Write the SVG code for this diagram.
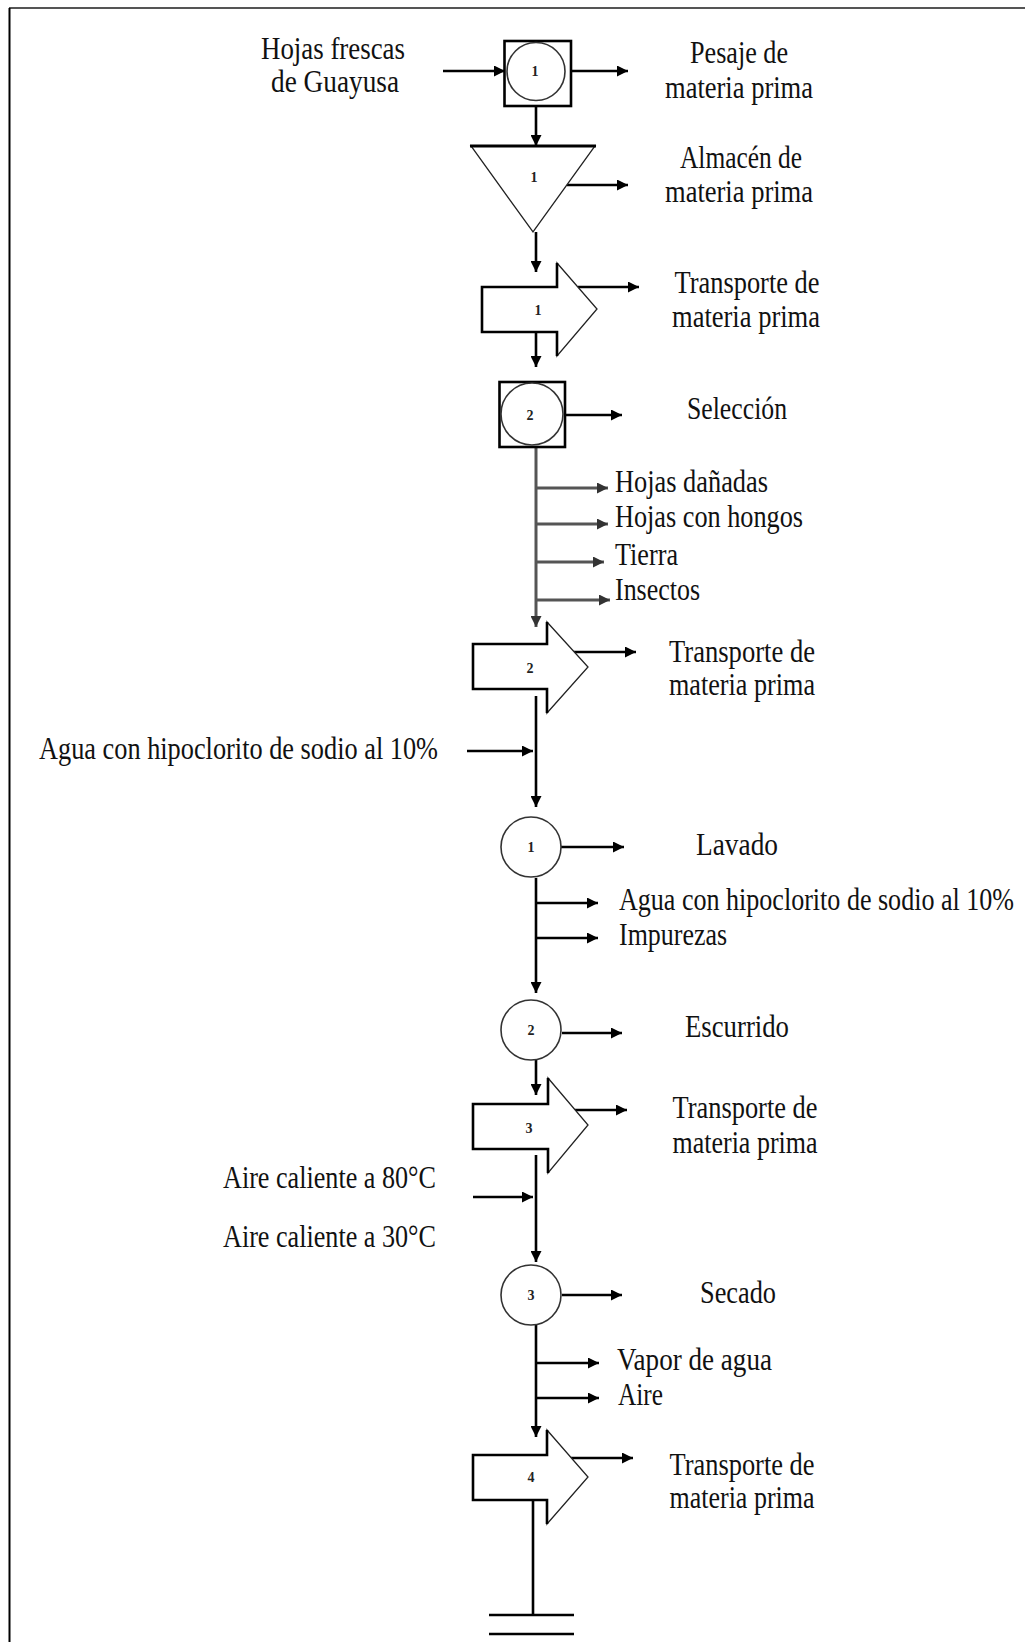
<svg xmlns="http://www.w3.org/2000/svg" width="1025" height="1642" viewBox="0 0 1025 1642">
<style>
.lbl{font-family:"Liberation Serif","Times New Roman",serif;font-size:32px;fill:#111}
.num{font-family:"Liberation Serif","Times New Roman",serif;font-size:14px;font-weight:bold;fill:#222;text-anchor:middle}
.c{text-anchor:middle}
.ln{stroke:#000;stroke-width:2.6;fill:none}
.gl{stroke:#555;stroke-width:3;fill:none}
.circ{fill:#fff;stroke:#333;stroke-width:1.6}
.thin{fill:#fff;stroke:#222;stroke-width:1.3}
.thick{fill:none;stroke:#000;stroke-width:2.6}
</style>
<defs>
<marker id="ah" viewBox="0 0 10 10" refX="10" refY="5" markerWidth="12" markerHeight="11" markerUnits="userSpaceOnUse" orient="auto"><path d="M0,0 L10,5 L0,10 z" fill="#000"/></marker>
<marker id="ahg" viewBox="0 0 10 10" refX="10" refY="5" markerWidth="12" markerHeight="11" markerUnits="userSpaceOnUse" orient="auto"><path d="M0,0 L10,5 L0,10 z" fill="#333"/></marker>
</defs>
<rect width="1025" height="1642" fill="#fff"/>
<g id="frame">
<line x1="9" y1="8" x2="1025" y2="8" stroke="#555" stroke-width="2"/>
<line x1="9.5" y1="8" x2="9.5" y2="1642" stroke="#000" stroke-width="2"/>
</g>
<g id="connectors">
<line class="ln" x1="443" y1="71" x2="505" y2="71" marker-end="url(#ah)"/>
<line class="ln" x1="571" y1="71" x2="628" y2="71" marker-end="url(#ah)"/>
<line class="ln" x1="536" y1="106" x2="536" y2="146" marker-end="url(#ah)"/>
<line class="ln" x1="567" y1="185" x2="628" y2="185" marker-end="url(#ah)"/>
<line class="ln" x1="536" y1="232" x2="536" y2="272" marker-end="url(#ah)"/>
<line class="ln" x1="578" y1="287" x2="639" y2="287" marker-end="url(#ah)"/>
<line class="ln" x1="536" y1="332" x2="536" y2="367" marker-end="url(#ah)"/>
<line class="ln" x1="565" y1="415" x2="622" y2="415" marker-end="url(#ah)"/>
<line class="gl" x1="536" y1="447" x2="536" y2="627" marker-end="url(#ahg)"/>
<line class="gl" x1="536" y1="488" x2="608" y2="488" marker-end="url(#ahg)"/>
<line class="gl" x1="536" y1="524" x2="608" y2="524" marker-end="url(#ahg)"/>
<line class="gl" x1="536" y1="562" x2="604" y2="562" marker-end="url(#ahg)"/>
<line class="gl" x1="536" y1="600" x2="610" y2="600" marker-end="url(#ahg)"/>
<line class="ln" x1="574" y1="652" x2="636" y2="652" marker-end="url(#ah)"/>
<line class="ln" x1="536" y1="696" x2="536" y2="807" marker-end="url(#ah)"/>
<line class="ln" x1="467" y1="751" x2="533" y2="751" marker-end="url(#ah)"/>
<line class="ln" x1="561" y1="847" x2="624" y2="847" marker-end="url(#ah)"/>
<line class="ln" x1="536" y1="878" x2="536" y2="993" marker-end="url(#ah)"/>
<line class="ln" x1="536" y1="903" x2="598" y2="903" marker-end="url(#ah)"/>
<line class="ln" x1="536" y1="938" x2="598" y2="938" marker-end="url(#ah)"/>
<line class="ln" x1="562" y1="1033" x2="622" y2="1033" marker-end="url(#ah)"/>
<line class="ln" x1="536" y1="1060" x2="536" y2="1095" marker-end="url(#ah)"/>
<line class="ln" x1="575" y1="1110" x2="627" y2="1110" marker-end="url(#ah)"/>
<line class="ln" x1="536" y1="1155" x2="536" y2="1262" marker-end="url(#ah)"/>
<line class="ln" x1="473" y1="1197" x2="533" y2="1197" marker-end="url(#ah)"/>
<line class="ln" x1="562" y1="1295" x2="622" y2="1295" marker-end="url(#ah)"/>
<line class="ln" x1="536" y1="1325" x2="536" y2="1437" marker-end="url(#ah)"/>
<line class="ln" x1="536" y1="1363" x2="599" y2="1363" marker-end="url(#ah)"/>
<line class="ln" x1="536" y1="1398" x2="599" y2="1398" marker-end="url(#ah)"/>
<line class="ln" x1="571" y1="1458" x2="633" y2="1458" marker-end="url(#ah)"/>
<line class="ln" x1="533" y1="1500" x2="533" y2="1615"/>
</g>
<g id="in-hojas">
<text class="lbl c" x="333" y="59" textLength="144" lengthAdjust="spacingAndGlyphs">Hojas frescas</text>
<text class="lbl c" x="335" y="92" textLength="128" lengthAdjust="spacingAndGlyphs">de Guayusa</text>
</g>
<g id="n-pesaje">
<rect x="504.5" y="41" width="66.5" height="65" class="thick" style="fill:#fff"/>
<circle cx="536" cy="71.5" r="29" class="circ"/>
<text class="num" x="535" y="76">1</text>
<text class="lbl c" x="739" y="63" textLength="98" lengthAdjust="spacingAndGlyphs">Pesaje de</text>
<text class="lbl c" x="739" y="98" textLength="148" lengthAdjust="spacingAndGlyphs">materia prima</text>
</g>
<g id="n-almacen">
<polygon points="471,146 595,146 533,232" class="thin"/>
<line x1="470" y1="146" x2="596" y2="146" stroke="#000" stroke-width="3"/>
<text class="num" x="534" y="182">1</text>
<text class="lbl c" x="741" y="168" textLength="122" lengthAdjust="spacingAndGlyphs">Almacén de</text>
<text class="lbl c" x="739" y="202" textLength="148" lengthAdjust="spacingAndGlyphs">materia prima</text>
</g>
<g id="n-transporte1">
<polygon points="557,263 597,309 557,356 557,332 482,332 482,287 557,287" class="thin"/>
<polyline points="557,263 557,287 482,287 482,332 557,332 557,356" class="thick"/>
<text class="num" x="538" y="315">1</text>
<text class="lbl c" x="747" y="293" textLength="145" lengthAdjust="spacingAndGlyphs">Transporte de</text>
<text class="lbl c" x="746" y="327" textLength="148" lengthAdjust="spacingAndGlyphs">materia prima</text>
</g>
<g id="n-seleccion">
<rect x="499.5" y="382" width="65.5" height="65" class="thick" style="fill:#fff"/>
<circle cx="532" cy="414" r="31" class="circ"/>
<text class="num" x="530" y="420">2</text>
<text class="lbl c" x="737" y="419" textLength="100" lengthAdjust="spacingAndGlyphs">Selección</text>
<text class="lbl" x="615" y="492" textLength="153" lengthAdjust="spacingAndGlyphs">Hojas dañadas</text>
<text class="lbl" x="615" y="527" textLength="188" lengthAdjust="spacingAndGlyphs">Hojas con hongos</text>
<text class="lbl" x="615" y="565" textLength="63" lengthAdjust="spacingAndGlyphs">Tierra</text>
<text class="lbl" x="615" y="600" textLength="85" lengthAdjust="spacingAndGlyphs">Insectos</text>
</g>
<g id="n-transporte2">
<polygon points="547,622 588,667 547,713 547,689 473,689 473,644 547,644" class="thin"/>
<polyline points="547,622 547,644 473,644 473,689 547,689 547,713" class="thick"/>
<text class="num" x="530" y="673">2</text>
<text class="lbl c" x="742" y="662" textLength="146" lengthAdjust="spacingAndGlyphs">Transporte de</text>
<text class="lbl c" x="742" y="695" textLength="146" lengthAdjust="spacingAndGlyphs">materia prima</text>
</g>
<g id="in-agua">
<text class="lbl" x="39" y="759" textLength="399" lengthAdjust="spacingAndGlyphs">Agua con hipoclorito de sodio al 10%</text>
</g>
<g id="n-lavado">
<circle cx="531" cy="847" r="30" class="circ"/>
<text class="num" x="531" y="852">1</text>
<text class="lbl c" x="737" y="855" textLength="82" lengthAdjust="spacingAndGlyphs">Lavado</text>
<text class="lbl" transform="translate(619,910) scale(1,1.23)" style="font-size:26px" x="0" y="0" textLength="395" lengthAdjust="spacingAndGlyphs">Agua con hipoclorito de sodio al 10%</text>
<text class="lbl" x="619" y="945" textLength="108" lengthAdjust="spacingAndGlyphs">Impurezas</text>
</g>
<g id="n-escurrido">
<circle cx="531" cy="1030" r="30" class="circ"/>
<text class="num" x="531" y="1035">2</text>
<text class="lbl c" x="737" y="1037" textLength="104" lengthAdjust="spacingAndGlyphs">Escurrido</text>
</g>
<g id="n-transporte3">
<polygon points="548,1078 588,1125 548,1173 548,1149 473,1149 473,1104 548,1104" class="thin"/>
<polyline points="548,1078 548,1104 473,1104 473,1149 548,1149 548,1173" class="thick"/>
<text class="num" x="529" y="1133">3</text>
<text class="lbl c" x="745" y="1118" textLength="145" lengthAdjust="spacingAndGlyphs">Transporte de</text>
<text class="lbl c" x="745" y="1153" textLength="145" lengthAdjust="spacingAndGlyphs">materia prima</text>
</g>
<g id="in-aire">
<text class="lbl" x="223" y="1188" textLength="213" lengthAdjust="spacingAndGlyphs">Aire caliente a 80°C</text>
<text class="lbl" x="223" y="1247" textLength="213" lengthAdjust="spacingAndGlyphs">Aire caliente a 30°C</text>
</g>
<g id="n-secado">
<circle cx="531" cy="1295" r="30" class="circ"/>
<text class="num" x="531" y="1300">3</text>
<text class="lbl c" x="738" y="1303" textLength="76" lengthAdjust="spacingAndGlyphs">Secado</text>
<text class="lbl" x="617" y="1370" textLength="155" lengthAdjust="spacingAndGlyphs">Vapor de agua</text>
<text class="lbl" x="618" y="1405" textLength="45" lengthAdjust="spacingAndGlyphs">Aire</text>
</g>
<g id="n-transporte4">
<polygon points="547,1430 588,1477 547,1524 547,1500 473,1500 473,1455 547,1455" class="thin"/>
<polyline points="547,1430 547,1455 473,1455 473,1500 547,1500 547,1524" class="thick"/>
<text class="num" x="531" y="1482">4</text>
<text class="lbl c" x="742" y="1475" textLength="145" lengthAdjust="spacingAndGlyphs">Transporte de</text>
<text class="lbl c" x="742" y="1508" textLength="145" lengthAdjust="spacingAndGlyphs">materia prima</text>
</g>
<g id="n-almacen-final">
<line x1="489" y1="1615" x2="574" y2="1615" stroke="#000" stroke-width="2.6"/>
<line x1="489" y1="1634" x2="574" y2="1634" stroke="#000" stroke-width="2.6"/>
</g>
</svg>
